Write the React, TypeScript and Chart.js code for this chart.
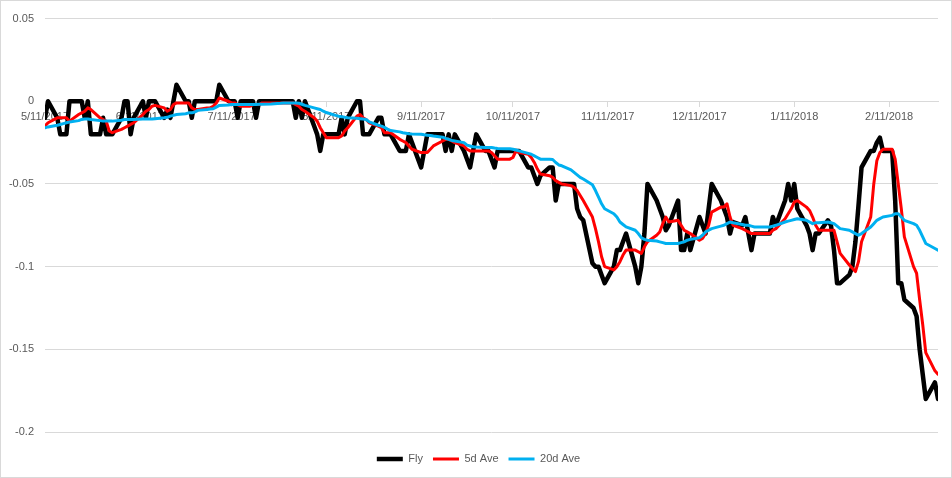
import { useEffect, useRef } from "react";
import { Chart, registerables } from "chart.js";
Chart.register(...registerables);

// Trading days, as calendar-day offsets from 5/11/2017
const START = Date.UTC(2017, 4, 11);
const tradeDays = [
  0, 1,
  4, 5, 6, 7, 8, 11, 12, 13, 14, 15, 18, 19, 20, 21, 22, 25, 26, 27, 28, 29,
  32, 33, 34, 35, 36, 39, 40, 41, 42, 43, 46, 47, 48, 49, 50, 53, 54, 55, 56, 57,
  60, 61, 62, 63, 64, 67, 68, 69, 70, 71, 74, 75, 76, 77, 78, 81, 82, 83, 84, 85,
  88, 89, 90, 91, 92, 95, 96, 97, 98, 99, 102, 103, 104, 105, 106, 109, 110, 111, 112, 113,
  116, 117, 118, 119, 120, 123, 124, 125, 126, 127, 130, 131, 132, 133, 134, 137, 138, 139, 140, 141,
  144, 145, 146, 147, 148, 151, 152, 153, 154, 155, 158, 159, 160, 161, 162, 165, 166, 167, 168, 169,
  172, 173, 174, 175, 176, 179, 180, 181, 182, 183, 186, 187, 188, 189, 190, 193, 194, 195, 196, 197,
  200, 201, 202, 203, 204, 207, 208, 209, 210, 211, 214, 215, 216, 217, 218, 221, 222, 223, 224, 225,
  228, 229, 230, 231, 232, 235, 236, 237, 238, 239, 242, 243, 244, 245, 246, 249, 250, 251, 252, 253,
  256, 257, 258, 259, 260, 263, 264, 265, 266, 267, 270, 271, 272, 273, 274, 277, 278, 279, 280, 281,
  284, 285, 286, 287, 288,
  291, 292,
];

const flyValues = [
  -0.01, 0,
  -0.01, -0.02, -0.02, -0.02, 0,
  0, 0, -0.01, 0, -0.02,
  -0.02, -0.01, -0.02, -0.02, -0.02,
  -0.01, 0, 0, -0.02, -0.01,
  0, -0.01, 0, 0, 0,
  -0.01, -0.005, -0.01, 0, 0.01,
  0, 0, -0.01, 0, 0,
  0, 0, 0, 0, 0.01,
  0, 0, 0, -0.01, 0,
  0, 0, -0.01, 0, 0,
  0, 0, 0, 0, 0,
  0, -0.01, 0, -0.01, 0,
  -0.015, -0.02, -0.03, -0.02, -0.02,
  -0.02, -0.02, -0.01, -0.02, -0.01,
  0, 0, -0.02, -0.02, -0.02,
  -0.01, -0.01, -0.02, -0.02, -0.02,
  -0.03, -0.03, -0.03, -0.02, -0.025,
  -0.04, -0.03, -0.02, -0.02, -0.02,
  -0.02, -0.03, -0.02, -0.03, -0.02,
  -0.03, -0.035, -0.04, -0.03, -0.02,
  -0.03, -0.03, -0.035, -0.04, -0.03,
  -0.03, -0.03, -0.03, -0.03, -0.03,
  -0.04, -0.04, -0.045, -0.05, -0.045,
  -0.04, -0.04, -0.06, -0.05, -0.05,
  -0.05, -0.05, -0.065, -0.07, -0.072,
  -0.098, -0.1, -0.1, -0.105, -0.11,
  -0.1, -0.09, -0.09, -0.085, -0.08,
  -0.1, -0.11, -0.1, -0.08, -0.05,
  -0.06, -0.065, -0.07, -0.078, -0.075,
  -0.06, -0.09, -0.09, -0.08, -0.09,
  -0.07, -0.075, -0.08, -0.065, -0.05,
  -0.06, -0.065, -0.07, -0.08, -0.073,
  -0.075, -0.07, -0.08, -0.09, -0.08,
  -0.08, -0.08, -0.08, -0.07, -0.075,
  -0.06, -0.05, -0.06, -0.05, -0.065,
  -0.075, -0.08, -0.09, -0.08, -0.08,
  -0.072, -0.075, -0.09, -0.11, -0.11,
  -0.105, -0.1, -0.085, -0.063, -0.04,
  -0.03, -0.03, -0.025, -0.022, -0.03,
  -0.03, -0.06, -0.11, -0.11, -0.12,
  -0.125, -0.13, -0.15, -0.165, -0.18,
  -0.17, -0.18,
];

const ave5Values = [
  -0.015, -0.013,
  -0.01, -0.01, -0.01, -0.01, -0.012,
  -0.008, -0.007, -0.006, -0.004, -0.005,
  -0.01, -0.011, -0.012, -0.018, -0.019,
  -0.017, -0.016, -0.015, -0.014, -0.013,
  -0.008, -0.006, -0.005, -0.003, -0.0025,
  -0.004, -0.006, -0.005, -0.002, -0.001,
  -0.001, -0.001, -0.004, -0.005, -0.005,
  -0.004, -0.004, -0.003, -0.001, 0.002,
  0, -0.001, -0.001, -0.002, -0.003,
  -0.003, -0.002, -0.002, -0.002, -0.001,
  -0.001, -0.001, -0.001, -0.001, -0.001,
  -0.001, -0.002, -0.003, -0.005, -0.006,
  -0.01, -0.012, -0.016, -0.019, -0.022,
  -0.022, -0.022, -0.021, -0.018, -0.016,
  -0.009, -0.008, -0.01, -0.011, -0.013,
  -0.015, -0.016, -0.019, -0.019, -0.019,
  -0.023, -0.024, -0.025, -0.027, -0.029,
  -0.031, -0.031, -0.031, -0.029, -0.027,
  -0.024, -0.023, -0.023, -0.024, -0.025,
  -0.027, -0.029, -0.03, -0.03, -0.03,
  -0.03, -0.03, -0.031, -0.033, -0.035,
  -0.035, -0.035, -0.034, -0.03, -0.031,
  -0.032, -0.034, -0.037, -0.041, -0.044,
  -0.045, -0.046, -0.048, -0.049, -0.05,
  -0.051, -0.052, -0.054, -0.057, -0.06,
  -0.07, -0.077, -0.085, -0.094, -0.1,
  -0.102, -0.1, -0.097, -0.093, -0.09,
  -0.09, -0.091, -0.092, -0.088, -0.085,
  -0.081, -0.079, -0.074, -0.07, -0.073,
  -0.072, -0.075, -0.078, -0.079, -0.08,
  -0.084, -0.083, -0.08, -0.075, -0.067,
  -0.064, -0.064, -0.062, -0.07, -0.075,
  -0.077, -0.078, -0.079, -0.08, -0.08,
  -0.08, -0.08, -0.08, -0.078, -0.077,
  -0.071, -0.068, -0.065, -0.061, -0.06,
  -0.064, -0.066, -0.07, -0.075, -0.078,
  -0.078, -0.078, -0.078, -0.085, -0.092,
  -0.099, -0.101, -0.103, -0.097, -0.085,
  -0.07, -0.05, -0.036, -0.031, -0.029,
  -0.029, -0.035, -0.05, -0.065, -0.082,
  -0.1, -0.104, -0.12, -0.135, -0.152,
  -0.163, -0.165,
];

const ave20Values = [
  -0.016, -0.0155,
  -0.0145, -0.014, -0.0135, -0.013, -0.0125,
  -0.0117, -0.011, -0.0107, -0.0107, -0.011,
  -0.0117, -0.012, -0.012, -0.012, -0.012,
  -0.0115, -0.011, -0.011, -0.011, -0.011,
  -0.0107, -0.0107, -0.0107, -0.0107, -0.0105,
  -0.01, -0.0097, -0.009, -0.0085, -0.008,
  -0.0075, -0.007, -0.007, -0.0065, -0.0055,
  -0.005, -0.0047, -0.0045, -0.0035, -0.0025,
  -0.0022, -0.002, -0.002, -0.002, -0.002,
  -0.002, -0.002, -0.0019, -0.0018, -0.0018,
  -0.0017, -0.0015, -0.0013, -0.0012, -0.001,
  -0.001, -0.001, -0.0012, -0.0018, -0.0025,
  -0.004, -0.0045, -0.005, -0.006, -0.0068,
  -0.0085, -0.009, -0.0093, -0.0097, -0.01,
  -0.0103, -0.0105, -0.0107, -0.011, -0.0125,
  -0.0145, -0.015, -0.0158, -0.0168, -0.0177,
  -0.0185, -0.019, -0.0193, -0.0196, -0.0198,
  -0.02, -0.0203, -0.0205, -0.0207, -0.021,
  -0.0217, -0.0225, -0.023, -0.0237, -0.024,
  -0.025, -0.0265, -0.027, -0.0275, -0.0277,
  -0.028, -0.028, -0.028, -0.0283, -0.0285,
  -0.0287, -0.0287, -0.029, -0.0295, -0.03,
  -0.0315, -0.032, -0.033, -0.034, -0.035,
  -0.035, -0.0352, -0.037, -0.0385, -0.039,
  -0.0415, -0.043, -0.0445, -0.046, -0.047,
  -0.0505, -0.054, -0.058, -0.062, -0.065,
  -0.068, -0.07, -0.073, -0.0745, -0.076,
  -0.078, -0.08, -0.0825, -0.0835, -0.084,
  -0.0845, -0.085, -0.0855, -0.086, -0.086,
  -0.086, -0.0855, -0.085, -0.084, -0.0835,
  -0.0825, -0.081, -0.079, -0.078, -0.077,
  -0.0755, -0.075, -0.074, -0.073, -0.0735,
  -0.0745, -0.075, -0.075, -0.0755, -0.076,
  -0.076, -0.076, -0.076, -0.0755, -0.075,
  -0.073, -0.0725, -0.072, -0.0715, -0.071,
  -0.072, -0.073, -0.074, -0.0735, -0.0735,
  -0.073, -0.0735, -0.074, -0.0755, -0.077,
  -0.078, -0.079, -0.08, -0.081, -0.08,
  -0.076, -0.074, -0.072, -0.071, -0.07,
  -0.069, -0.068, -0.068, -0.07, -0.072,
  -0.074, -0.075, -0.078, -0.082, -0.086,
  -0.089, -0.09,
];

const seriesNames = ["Fly", "5d Ave", "20d Ave"];
const xTickLabels = [
  "5/11/2017", "6/11/2017", "7/11/2017", "8/11/2017", "9/11/2017",
  "10/11/2017", "11/11/2017", "12/11/2017", "1/11/2018", "2/11/2018",
];
const yTickValues = [-0.2, -0.15, -0.1, -0.05, 0, 0.05];
const yTickLabels = ["-0.2", "-0.15", "-0.1", "-0.05", "0", "0.05"];

const dayOf = (s: string) => {
  const [m, d, y] = s.split("/").map(Number);
  return (Date.UTC(y, m - 1, d) - START) / 86400000;
};
const xTickDays = xTickLabels.map(dayOf);

const toPoints = (vals: number[]) => vals.map((v, i) => ({ x: tradeDays[i], y: v }));

const TEXT = "#595959";
const GRID = "#d9d9d9";

// Shift the legend box so it is centred on the whole canvas, as in the source chart
const legendCentre = {
  id: "legendCentre",
  afterLayout(chart: any) {
    const l = chart.legend;
    if (l) {
      l.left = 18;
      l.right = chart.width - 13;
    }
  },
};

export default function App() {
  const ref = useRef<HTMLCanvasElement>(null);
  useEffect(() => {
    document.body.style.margin = "0";
    Chart.defaults.font.family = "'Liberation Sans', Arial, sans-serif";
    Chart.defaults.font.size = 11;
    Chart.defaults.color = TEXT;
    const common = {
      pointRadius: 0,
      pointHoverRadius: 0,
      tension: 0,
      borderJoinStyle: "round" as const,
      borderCapStyle: "round" as const,
      fill: false,
    };
    const chart = new Chart(ref.current!, {
      type: "line",
      plugins: [legendCentre],
      data: {
        datasets: [
          { ...common, label: seriesNames[0], data: toPoints(flyValues), borderColor: "#000000", backgroundColor: "#000000", borderWidth: 4.5, order: 2 },
          { ...common, label: seriesNames[1], data: toPoints(ave5Values), borderColor: "#ff0000", backgroundColor: "#ff0000", borderWidth: 3, order: 1 },
          { ...common, label: seriesNames[2], data: toPoints(ave20Values), borderColor: "#00b0f0", backgroundColor: "#00b0f0", borderWidth: 3, order: 0 },
        ],
      },
      options: {
        animation: false,
        responsive: false,
        devicePixelRatio: 1,
        events: [],
        layout: { padding: { top: 12.5, right: 13, bottom: 2.5, left: 0 } },
        scales: {
          x: {
            type: "linear",
            min: 0,
            max: 292,
            position: { y: 0 } as any,
            afterBuildTicks: (scale: any) => {
              scale.ticks = xTickDays.map((v) => ({ value: v }));
            },
            ticks: {
              callback: (_v: any, i: number) => xTickLabels[i],
              autoSkip: false,
              maxRotation: 0,
              minRotation: 0,
              padding: 4,
              color: TEXT,
              font: { size: 11 },
            },
            grid: { drawOnChartArea: false, drawTicks: true, tickLength: 5, color: GRID },
            border: { display: true, color: GRID, width: 1 },
          },
          y: {
            type: "linear",
            min: -0.2,
            max: 0.05,
            afterBuildTicks: (scale: any) => {
              scale.ticks = yTickValues.map((v) => ({ value: v }));
            },
            afterFit: (scale: any) => {
              scale.width = 44;
            },
            ticks: {
              callback: (_v: any, i: number) => yTickLabels[i],
              padding: 11,
              color: TEXT,
              font: { size: 11 },
            },
            grid: { color: GRID, drawTicks: false, lineWidth: 1 },
            border: { display: false },
          },
        },
        plugins: {
          tooltip: { enabled: false },
          legend: {
            position: "bottom",
            align: "center",
            title: { display: true, text: "", padding: 0, font: { size: 10, lineHeight: 1.15 } },
            labels: {
              usePointStyle: true,
              pointStyle: "line",
              pointStyleWidth: 26,
              boxHeight: 11,
              padding: 10,
              color: TEXT,
              font: { size: 11 },
              sort: (a: any, b: any) => a.datasetIndex - b.datasetIndex,
            },
          },
        },
      },
    });
    return () => chart.destroy();
  }, []);
  return (
    <div
      style={{
        position: "absolute",
        left: 0,
        top: 0,
        width: 952,
        height: 478,
        boxSizing: "border-box",
        border: "1px solid #d9d9d9",
        background: "#ffffff",
      }}
    >
      <canvas ref={ref} width={950} height={476} style={{ display: "block", width: 950, height: 476 }} />
    </div>
  );
}
